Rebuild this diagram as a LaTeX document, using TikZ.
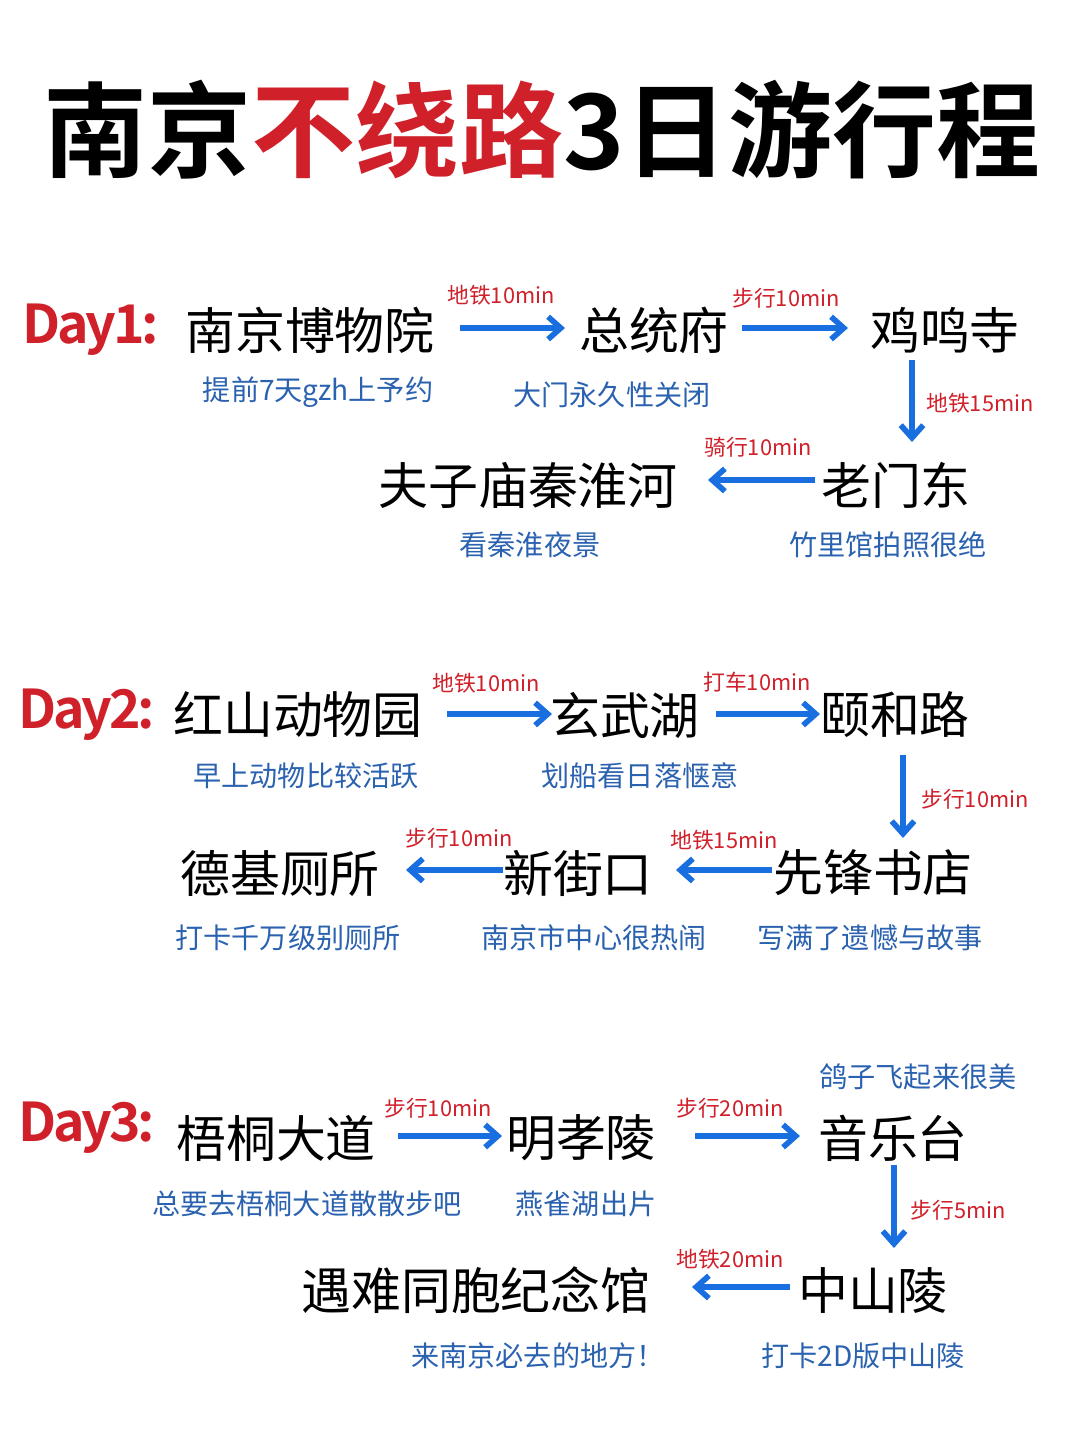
\documentclass[tikz,border=0pt]{standalone}
\usepackage{fontspec}
\setmainfont{Noto Sans CJK SC}
\newfontfamily\cjkb{Noto Sans CJK SC Bold}
\usetikzlibrary{arrows.meta}
\definecolor{tred}{HTML}{D0202A}
\definecolor{nblue}{HTML}{2A62B0}
\definecolor{ablue}{HTML}{1A6FE0}
\begin{document}
\begin{tikzpicture}[x=0.025cm,y=-0.025cm,
  place/.style={inner sep=0,font=\fontsize{35.5}{35}\selectfont},
  note/.style={inner sep=0,text=nblue,font=\fontsize{20}{20}\selectfont},
  lab/.style={inner sep=0,text=tred,font=\fontsize{15.5}{15}\selectfont},
  daylab/.style={inner sep=0,anchor=west,text=tred,font=\cjkb\fontsize{38}{38}\selectfont\addfontfeatures{LetterSpace=-6}},
  arr/.style={draw=ablue,line width=4.5pt,-{Straight Barb[length=9pt,width=16pt,line width=4pt]}}]
\fill[white] (0,0) rectangle (1080,1443);
\node[inner sep=0,font=\cjkb\fontsize{74}{74}\selectfont] (title) at (542,130) {南京\textcolor{tred}{不绕路}3日游行程};
% Day1
\node[daylab] (d1) at (22,330) {Day1:};
\node[place] (a1) at (310,330) {南京博物院};
\node[place] (a2) at (654,330) {总统府};
\node[place] (a3) at (945,330) {鸡鸣寺};
\node[place] (a4) at (896,485) {老门东};
\node[place] (a5) at (528,485) {夫子庙秦淮河};
\coordinate (c1a) at (460,328); \coordinate (c1b) at (565,328);
\coordinate (c2a) at (742,328); \coordinate (c2b) at (848,328);
\coordinate (c3a) at (912,360); \coordinate (c3b) at (912,442);
\coordinate (c4a) at (815,480); \coordinate (c4b) at (708,480);
\draw[arr] (c1a) -- (c1b); \draw[arr] (c2a) -- (c2b);
\draw[arr] (c3a) -- (c3b); \draw[arr] (c4a) -- (c4b);
\node[lab] (l1) at (501,295) {地铁10min};
\node[lab] (l2) at (786,298) {步行10min};
\node[lab] (l3) at (980,403) {地铁15min};
\node[lab] (l4) at (758,447) {骑行10min};
\node[note] (n1) at (318,392) {提前7天gzh上予约};
\node[note] (n2) at (612,395) {大门永久性关闭};
\node[note] (n3) at (530,545) {看秦淮夜景};
\node[note] (n4) at (888,545) {竹里馆拍照很绝};
% Day2
\node[daylab] (d2) at (18,715) {Day2:};
\node[place] (b1) at (298,715) {红山动物园};
\node[place] (b2) at (625,715) {玄武湖};
\node[place] (b3) at (895,715) {颐和路};
\node[place] (b4) at (873,873) {先锋书店};
\node[place] (b5) at (578,873) {新街口};
\node[place] (b6) at (280,873) {德基厕所};
\coordinate (e1a) at (447,714); \coordinate (e1b) at (552,714);
\coordinate (e2a) at (716,714); \coordinate (e2b) at (820,714);
\coordinate (e3a) at (903,755); \coordinate (e3b) at (903,838);
\coordinate (e4a) at (772,870); \coordinate (e4b) at (676,870);
\coordinate (e5a) at (503,870); \coordinate (e5b) at (406,870);
\draw[arr] (e1a) -- (e1b); \draw[arr] (e2a) -- (e2b); \draw[arr] (e3a) -- (e3b);
\draw[arr] (e4a) -- (e4b); \draw[arr] (e5a) -- (e5b);
\node[lab] (m1) at (486,683) {地铁10min};
\node[lab] (m2) at (757,682) {打车10min};
\node[lab] (m3) at (975,799) {步行10min};
\node[lab] (m4) at (724,840) {地铁15min};
\node[lab] (m5) at (459,838) {步行10min};
\node[note] (p1) at (306,776) {早上动物比较活跃};
\node[note] (p2) at (640,776) {划船看日落惬意};
\node[note] (p3) at (288,938) {打卡千万级别厕所};
\node[note] (p4) at (594,938) {南京市中心很热闹};
\node[note] (p5) at (870,938) {写满了遗憾与故事};
% Day3
\node[daylab] (d3) at (18,1128) {Day3:};
\node[place] (q1) at (276,1138) {梧桐大道};
\node[place] (q2) at (581,1138) {明孝陵};
\node[place] (q3) at (893,1138) {音乐台};
\node[place] (q4) at (873,1290) {中山陵};
\node[place] (q5) at (476,1290) {遇难同胞纪念馆};
\coordinate (f1a) at (398,1136); \coordinate (f1b) at (502,1136);
\coordinate (f2a) at (695,1136); \coordinate (f2b) at (800,1136);
\coordinate (f3a) at (894,1165); \coordinate (f3b) at (894,1248);
\coordinate (f4a) at (790,1287); \coordinate (f4b) at (692,1287);
\draw[arr] (f1a) -- (f1b); \draw[arr] (f2a) -- (f2b);
\draw[arr] (f3a) -- (f3b); \draw[arr] (f4a) -- (f4b);
\node[lab] (r1) at (438,1108) {步行10min};
\node[lab] (r2) at (730,1108) {步行20min};
\node[lab] (r3) at (958,1210) {步行5min};
\node[lab] (r4) at (730,1259) {地铁20min};
\node[note] (s0) at (918,1077) {鸽子飞起来很美};
\node[note] (s1) at (307,1204) {总要去梧桐大道散散步吧};
\node[note] (s2) at (586,1204) {燕雀湖出片};
\node[note] (s3) at (538,1356) {来南京必去的地方！};
\node[note] (s4) at (863,1356) {打卡2D版中山陵};
\end{tikzpicture}
\end{document}
